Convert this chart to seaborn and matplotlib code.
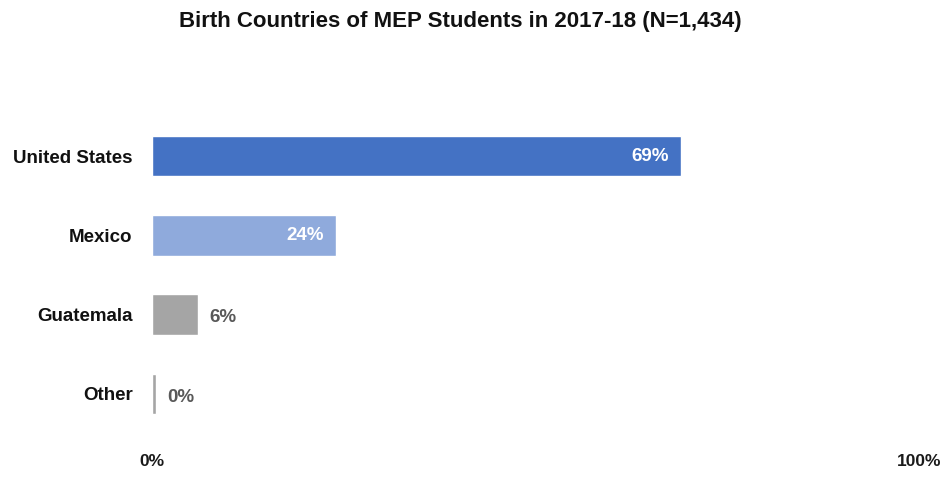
import matplotlib
matplotlib.use("Agg")
import matplotlib.pyplot as plt
from matplotlib import font_manager
import seaborn as sns
import pandas as pd

countries = ["United States", "Mexico", "Guatemala", "Other"]
shares = [69, 24, 6, 0.5]
share_labels = ["69%", "24%", "6%", "0%"]
bar_colors = ["#4472C4", "#8FAADC", "#A5A5A5", "#A5A5A5"]
label_inside = [True, True, False, False]
x_ticks = [0, 100]
x_tick_labels = ["0%", "100%"]
title = "Birth Countries of MEP Students in 2017-18 (N=1,434)"

sns.set_theme(style="white")
names = {f.name for f in font_manager.fontManager.ttflist}
family = "Liberation Sans Narrow" if "Liberation Sans Narrow" in names else "Liberation Sans"
plt.rcParams["font.family"] = [family, "DejaVu Sans"]

df = pd.DataFrame({"country": countries, "share": shares})

fig = plt.figure(figsize=(9.46, 4.79), dpi=100)
ax = fig.add_axes([0.1607, 0.095, 0.8108, 0.662])

sns.barplot(data=df, x="share", y="country", hue="country", order=countries,
            hue_order=countries, palette=bar_colors, orient="h", width=0.51,
            legend=False, ax=ax, saturation=1)

ax.set_xlim(0, 100)
ax.set_ylim(3.5, -0.5)
ax.set_xticks(x_ticks)
ax.set_xticklabels(x_tick_labels, fontsize=12.5, fontweight="bold", color="#1a1a1a")
ax.tick_params(axis="x", length=0, pad=15)
ax.tick_params(axis="y", length=0, pad=14)
for lbl in ax.get_yticklabels():
    lbl.set_fontsize(13.5)
    lbl.set_fontweight("bold")
    lbl.set_color("#111111")
ax.set_xlabel("")
ax.set_ylabel("")
for s in ax.spines.values():
    s.set_visible(False)

for i, (v, txt, inside) in enumerate(zip(shares, share_labels, label_inside)):
    if inside:
        ax.text(v - 1.6, i, txt, ha="right", va="center", color="white",
                fontsize=13.5, fontweight="bold")
    else:
        ax.text(v + 1.5, i + 0.04, txt, ha="left", va="center", color="#595959",
                fontsize=13.5, fontweight="bold")

fig.text(0.487, 0.955, title, ha="center", va="center", fontsize=16,
         fontweight="bold", color="#111111")

fig.savefig("out.png", dpi=100, facecolor="white")
